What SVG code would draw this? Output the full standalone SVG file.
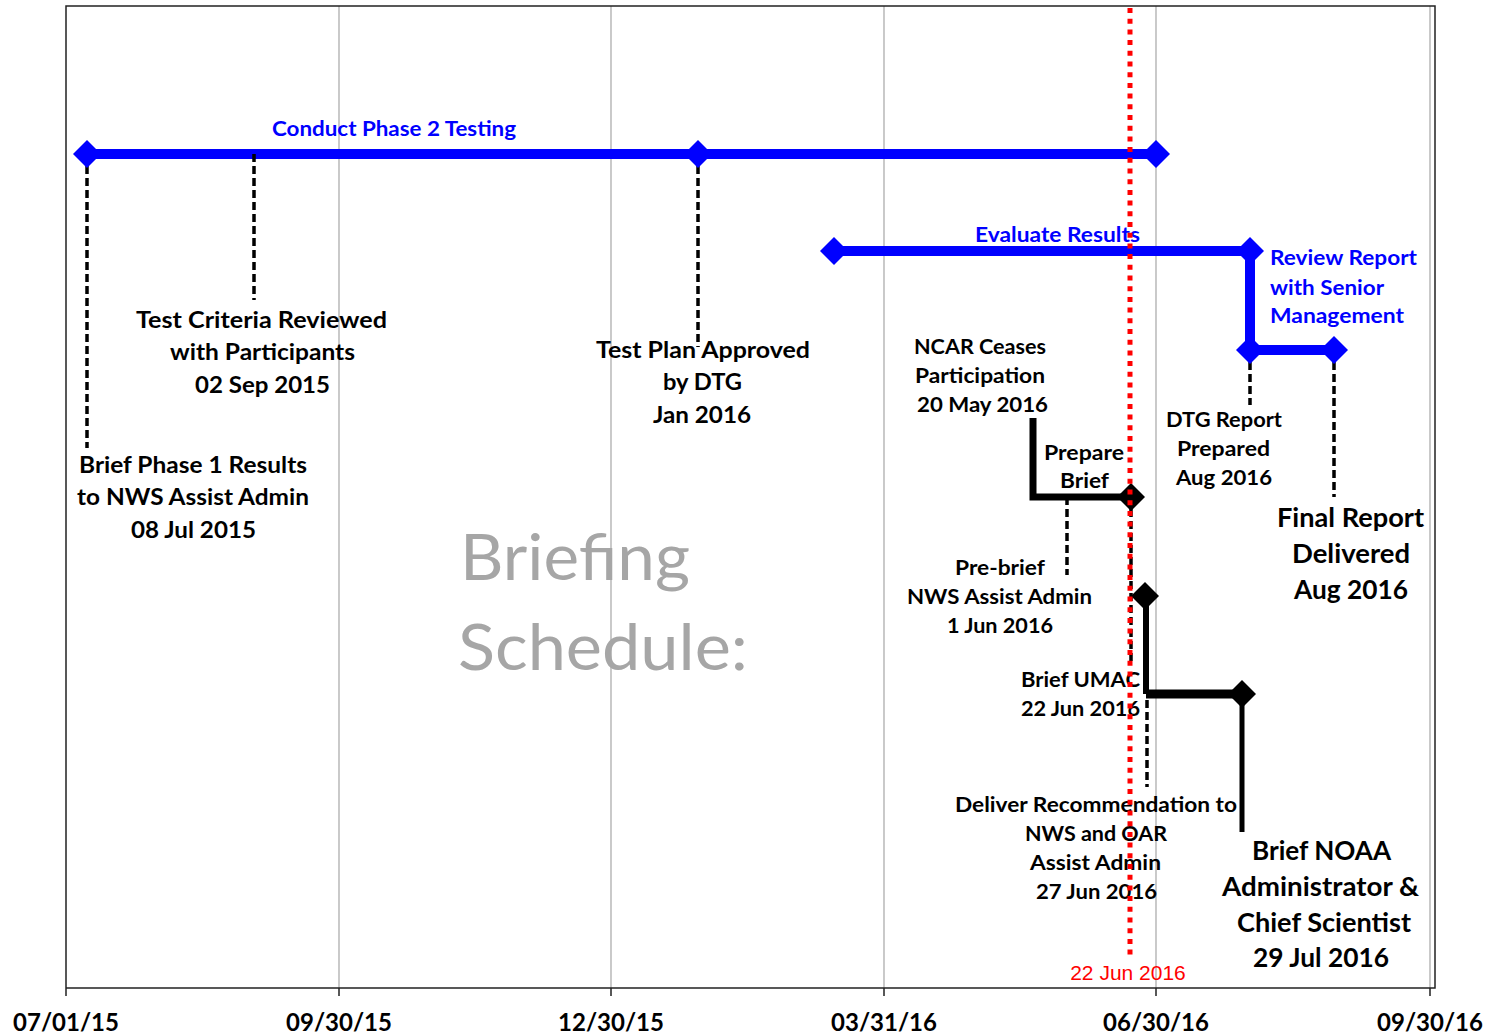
<svg xmlns="http://www.w3.org/2000/svg" xmlns:xlink="http://www.w3.org/1999/xlink" width="1489" height="1034" viewBox="0 0 1489 1034">
<defs>
<style>
.lbl{font-family:Lato,"Open Sans",sans-serif;font-weight:700;fill:#000;text-anchor:middle}
.s20{font-size:20.5px}
.s22{font-size:22.5px}
.s26{font-size:26.5px}
.blue{fill:#0000FF;text-anchor:start;font-size:20.5px}
.grid{stroke:#A6A6A6;stroke-width:1.2}
.frame{stroke:#222;stroke-width:1.5;fill:none}
.dash{stroke:#000;stroke-width:3.5;stroke-dasharray:8 4;fill:none}
.barb{stroke:#0000FF;stroke-width:10;fill:none}
.bark{stroke:#000;fill:none}
.axis{font-family:Lato,"Open Sans",sans-serif;font-weight:700;font-size:24px;text-anchor:middle;fill:#000}
.bd{fill:#0000FF}
.kd{fill:#000}
</style>
<path id="dm" d="M0,-14L14,0L0,14L-14,0Z"/>
</defs>
<rect width="1489" height="1034" fill="#fff"/>
<g id="grid">
<line class="grid" x1="339" y1="6" x2="339" y2="988"/>
<line class="grid" x1="611" y1="6" x2="611" y2="988"/>
<line class="grid" x1="884" y1="6" x2="884" y2="988"/>
<line class="grid" x1="1156" y1="6" x2="1156" y2="988"/>
<line class="grid" x1="1430" y1="6" x2="1430" y2="988"/>
<path class="frame" d="M66,996V6H1435V988H66"/>
<path class="frame" d="M339,988v8M611,988v8M884,988v8M1156,988v8M1430,988v8"/>
</g>
<g id="axis-labels">
<text class="axis" x="66" y="1031">07/01/15</text>
<text class="axis" x="339" y="1031">09/30/15</text>
<text class="axis" x="611" y="1031">12/30/15</text>
<text class="axis" x="884" y="1031">03/31/16</text>
<text class="axis" x="1156" y="1031">06/30/16</text>
<text class="axis" x="1430" y="1031">09/30/16</text>
</g>
<g id="title">
<text x="460" y="580" font-family="Lato,'Open Sans',sans-serif" font-size="64" fill="#A6A6A6" textLength="230" lengthAdjust="spacingAndGlyphs">Briefing</text>
<text x="458" y="670" font-family="Lato,'Open Sans',sans-serif" font-size="64" fill="#A6A6A6" textLength="290" lengthAdjust="spacingAndGlyphs">Schedule:</text>
</g>
<g id="connectors">
<line class="barb" x1="87" y1="154" x2="1156" y2="154"/>
<line class="barb" x1="834" y1="251" x2="1250" y2="251"/>
<path class="barb" d="M1250,251V350H1334"/>
<path class="bark" stroke-width="7" d="M1033,418V497H1131"/>
<path class="bark" stroke-width="6" d="M1146,596V694"/>
<line class="bark" stroke-width="9" x1="1146" y1="694" x2="1242" y2="694"/>
<line class="bark" stroke-width="5" x1="1242" y1="694" x2="1242" y2="832"/>
<line class="dash" x1="87" y1="154" x2="87" y2="448"/>
<line class="dash" x1="254" y1="154" x2="254" y2="300"/>
<line class="dash" x1="698" y1="154" x2="698" y2="347"/>
<line class="dash" x1="1067" y1="497" x2="1067" y2="575"/>
<line class="dash" x1="1131" y1="497" x2="1131" y2="665"/>
<line class="dash" x1="1147" y1="700" x2="1147" y2="787"/>
<line class="dash" x1="1250" y1="350" x2="1250" y2="405"/>
<line class="dash" x1="1334" y1="350" x2="1334" y2="497"/>
</g>
<g id="n-conduct">
<use xlink:href="#dm" class="bd" x="87" y="154"/>
<use xlink:href="#dm" class="bd" x="698" y="154"/>
<use xlink:href="#dm" class="bd" x="1156" y="154"/>
<text class="lbl blue" x="272" y="136" textLength="244" lengthAdjust="spacingAndGlyphs">Conduct Phase 2 Testing</text>
</g>
<g id="n-evaluate">
<use xlink:href="#dm" class="bd" x="834" y="251"/>
<use xlink:href="#dm" class="bd" x="1250" y="251"/>
<text class="lbl blue" x="975" y="242" textLength="165" lengthAdjust="spacingAndGlyphs">Evaluate Results</text>
</g>
<g id="n-review">
<use xlink:href="#dm" class="bd" x="1250" y="350"/>
<use xlink:href="#dm" class="bd" x="1334" y="350"/>
<text class="lbl blue" x="1270" y="265" textLength="147" lengthAdjust="spacingAndGlyphs">Review Report</text>
<text class="lbl blue" x="1270" y="295" textLength="114" lengthAdjust="spacingAndGlyphs">with Senior</text>
<text class="lbl blue" x="1270" y="323" textLength="134" lengthAdjust="spacingAndGlyphs">Management</text>
</g>
<g id="n-phase1">
<text class="lbl s22" x="193" y="473" textLength="228" lengthAdjust="spacingAndGlyphs">Brief Phase 1 Results</text>
<text class="lbl s22" x="193" y="505" textLength="232" lengthAdjust="spacingAndGlyphs">to NWS Assist Admin</text>
<text class="lbl s22" x="193.5" y="538" textLength="125" lengthAdjust="spacingAndGlyphs">08 Jul 2015</text>
</g>
<g id="n-criteria">
<text class="lbl s22" x="261.5" y="328" textLength="251" lengthAdjust="spacingAndGlyphs">Test Criteria Reviewed</text>
<text class="lbl s22" x="262.5" y="360" textLength="185" lengthAdjust="spacingAndGlyphs">with Participants</text>
<text class="lbl s22" x="262.5" y="393" textLength="135" lengthAdjust="spacingAndGlyphs">02 Sep 2015</text>
</g>
<g id="n-testplan">
<text class="lbl s22" x="703" y="358" textLength="214" lengthAdjust="spacingAndGlyphs">Test Plan Approved</text>
<text class="lbl s22" x="702.5" y="390" textLength="79" lengthAdjust="spacingAndGlyphs">by DTG</text>
<text class="lbl s22" x="702" y="423" textLength="98" lengthAdjust="spacingAndGlyphs">Jan 2016</text>
</g>
<g id="n-ncar">
<text class="lbl s20" x="980" y="354" textLength="132" lengthAdjust="spacingAndGlyphs">NCAR Ceases</text>
<text class="lbl s20" x="980" y="383" textLength="130" lengthAdjust="spacingAndGlyphs">Participation</text>
<text class="lbl s20" x="982.5" y="412" textLength="131" lengthAdjust="spacingAndGlyphs">20 May 2016</text>
</g>
<g id="n-prepare">
<use xlink:href="#dm" class="kd" x="1131" y="497"/>
<text class="lbl s20" x="1084" y="460" textLength="80" lengthAdjust="spacingAndGlyphs">Prepare</text>
<text class="lbl s20" x="1084.5" y="488" textLength="49" lengthAdjust="spacingAndGlyphs">Brief</text>
</g>
<g id="n-prebrief">
<text class="lbl s20" x="1000" y="575" textLength="90" lengthAdjust="spacingAndGlyphs">Pre-brief</text>
<text class="lbl s20" x="999.5" y="604" textLength="185" lengthAdjust="spacingAndGlyphs">NWS Assist Admin</text>
<text class="lbl s20" x="1000" y="633" textLength="106" lengthAdjust="spacingAndGlyphs">1 Jun 2016</text>
</g>
<g id="n-umac">
<use xlink:href="#dm" class="kd" x="1145" y="596"/>
<text class="lbl s20" x="1080.5" y="687" textLength="119" lengthAdjust="spacingAndGlyphs">Brief UMAC</text>
<text class="lbl s20" x="1080.5" y="716" textLength="119" lengthAdjust="spacingAndGlyphs">22 Jun 2016</text>
</g>
<g id="n-deliver">
<text class="lbl s20" x="1096" y="812" textLength="282" lengthAdjust="spacingAndGlyphs">Deliver Recommendation to</text>
<text class="lbl s20" x="1096" y="841" textLength="142" lengthAdjust="spacingAndGlyphs">NWS and OAR</text>
<text class="lbl s20" x="1095.5" y="870" textLength="131" lengthAdjust="spacingAndGlyphs">Assist Admin</text>
<text class="lbl s20" x="1096.5" y="899" textLength="121" lengthAdjust="spacingAndGlyphs">27 Jun 2016</text>
</g>
<g id="n-noaa">
<use xlink:href="#dm" class="kd" x="1242" y="694"/>
<text class="lbl s26" x="1321.5" y="860" textLength="139" lengthAdjust="spacingAndGlyphs">Brief NOAA</text>
<text class="lbl s26" x="1320.5" y="896" textLength="197" lengthAdjust="spacingAndGlyphs">Administrator &amp;</text>
<text class="lbl s26" x="1324" y="932" textLength="174" lengthAdjust="spacingAndGlyphs">Chief Scientist</text>
<text class="lbl s26" x="1321" y="967" textLength="136" lengthAdjust="spacingAndGlyphs">29 Jul 2016</text>
</g>
<g id="n-dtg">
<text class="lbl s20" x="1224" y="427" textLength="116" lengthAdjust="spacingAndGlyphs">DTG Report</text>
<text class="lbl s20" x="1223.5" y="456" textLength="93" lengthAdjust="spacingAndGlyphs">Prepared</text>
<text class="lbl s20" x="1224" y="485" textLength="96" lengthAdjust="spacingAndGlyphs">Aug 2016</text>
</g>
<g id="n-final">
<text class="lbl s26" x="1350.5" y="527" textLength="147" lengthAdjust="spacingAndGlyphs">Final Report</text>
<text class="lbl s26" x="1351" y="563" textLength="118" lengthAdjust="spacingAndGlyphs">Delivered</text>
<text class="lbl s26" x="1351" y="599" textLength="114" lengthAdjust="spacingAndGlyphs">Aug 2016</text>
</g>
<g id="today">
<line x1="1130" y1="8" x2="1130" y2="958" stroke="#FF0000" stroke-width="5" stroke-dasharray="5 5.7"/>
<text x="1128" y="980" font-family="'Liberation Sans',Arial,sans-serif" font-size="21" fill="#FF0000" text-anchor="middle">22 Jun 2016</text>
</g>
</svg>
